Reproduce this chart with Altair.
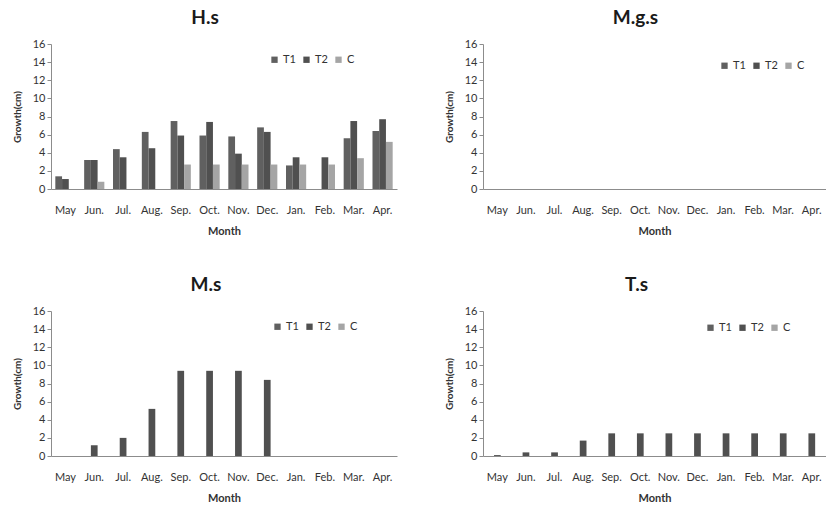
import altair as alt
import pandas as pd

months = ["May", "Jun.", "Jul.", "Aug.", "Sep.", "Oct.", "Nov.", "Dec.", "Jan.", "Feb.", "Mar.", "Apr."]
series = ["T1", "T2", "C"]
colors = ["#606060", "#505050", "#a5a5a5"]

# H.s
hs_t1 = [1.4, 3.2, 4.4, 6.3, 7.5, 5.9, 5.8, 6.8, 2.6, 0.0, 5.6, 6.4]
hs_t2 = [1.1, 3.2, 3.5, 4.5, 5.9, 7.4, 3.9, 6.3, 3.5, 3.5, 7.5, 7.7]
hs_c = [0.0, 0.8, 0.0, 0.0, 2.7, 2.7, 2.7, 2.7, 2.7, 2.7, 3.4, 5.2]
# M.g.s (no growth)
mgs_t2 = [0.0] * 12
# M.s
ms_t2 = [0.0, 1.2, 2.0, 5.2, 9.4, 9.4, 9.4, 8.4, 0.0, 0.0, 0.0, 0.0]
# T.s
ts_t2 = [0.1, 0.4, 0.4, 1.7, 2.5, 2.5, 2.5, 2.5, 2.5, 2.5, 2.5, 2.5]

rows = []
def add(panel, s, vals):
    for m, v in zip(months, vals):
        rows.append({"panel": panel, "series": s, "month": m, "value": v})

add("H.s", "T1", hs_t1)
add("H.s", "T2", hs_t2)
add("H.s", "C", hs_c)
add("M.g.s", "T2", mgs_t2)
add("M.s", "T2", ms_t2)
add("T.s", "T2", ts_t2)
df = pd.DataFrame(rows)

FONT = "Lato"

def panel(name, width, lx, ly, dx):
    return (
        alt.Chart(df)
        .transform_filter(alt.datum.panel == name)
        .mark_bar()
        .encode(
            x=alt.X(
                "month:N",
                sort=months,
                scale=alt.Scale(domain=months, paddingInner=0.3, paddingOuter=0.15),
                axis=alt.Axis(
                    title="Month", labelAngle=0, ticks=False, labelPadding=15,
                    titlePadding=10, domainColor="#8c8c8c", labelColor="#333333",
                    labelFontSize=11, titleFontSize=11, titleFont=FONT, labelFont=FONT,
                    titleFontWeight="bold", titleColor="#333333",
                ),
            ),
            xOffset=alt.XOffset("series:N", scale=alt.Scale(domain=series, paddingInner=0)),
            y=alt.Y(
                "value:Q",
                scale=alt.Scale(domain=[0, 16]),
                axis=alt.Axis(
                    title="Growth(cm)", values=list(range(0, 17, 2)), grid=False,
                    tickSize=4, tickColor="#8c8c8c", domainColor="#8c8c8c",
                    labelColor="#333333", labelFontSize=11, labelFont=FONT,
                    titleFont=FONT, titleFontSize=10, titleFontWeight="bold",
                    titleColor="#333333", titlePadding=10,
                ),
            ),
            color=alt.Color(
                "series:N",
                scale=alt.Scale(domain=series, range=colors),
                legend=alt.Legend(
                    title=None, orient="none", legendX=lx, legendY=ly,
                    direction="horizontal", symbolType="square", symbolSize=40,
                    symbolStrokeWidth=0, labelFontSize=11, labelFont=FONT,
                    labelColor="#333333", columnPadding=5, labelOffset=3,
                ),
            ),
        )
        .properties(
            width=width,
            height=145,
            title=alt.TitleParams(
                text=name, fontSize=19, font=FONT, fontWeight="bold",
                color="#1a1a1a", anchor="middle", dx=dx, offset=10,
            ),
        )
    )

hs = panel("H.s", 346, 218, 10, -19)
mgs = panel("M.g.s", 343, 236, 16, -19)
ms = panel("M.s", 346, 221, 10, -18)
ts = panel("T.s", 343, 222, 11, -18)

chart = (
    alt.concat(hs, mgs, ms, ts, columns=2, spacing={"row": 122, "column": 86}, bounds="flush")
    .resolve_scale(color="independent")
    .resolve_legend(color="independent")
    .properties(padding={"left": 12, "top": 9, "right": 0, "bottom": 0}, background="white")
    .configure_view(stroke=None)
)

chart.save("out.html", embed_options={"renderer": "svg", "actions": False})
